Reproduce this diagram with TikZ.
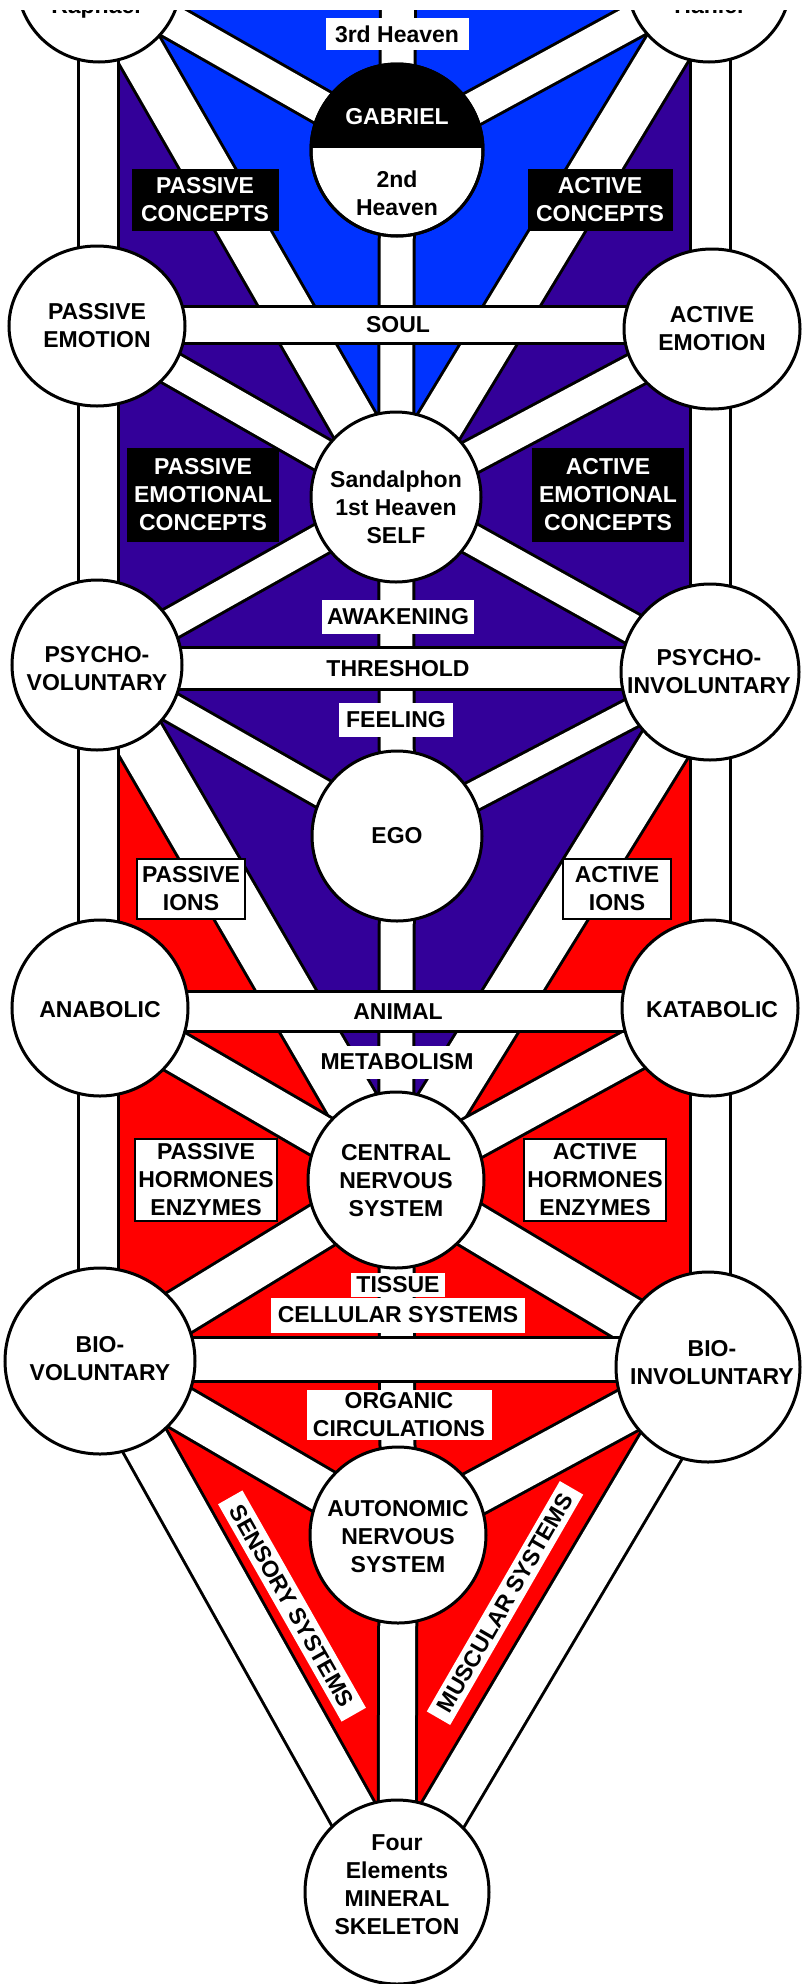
\documentclass[tikz,border=0pt]{standalone}
\usepackage{fontspec}
\setmainfont{Liberation Sans}
\usetikzlibrary{shapes.geometric}
\definecolor{hblue}{RGB}{0,51,255}
\definecolor{hpurple}{RGB}{51,0,153}
\definecolor{hred}{RGB}{255,0,0}
\pgfdeclarelayer{bg}
\pgfdeclarelayer{mid}
\pgfdeclarelayer{barl}
\pgfsetlayers{bg,mid,barl,main}
\begin{document}
\begin{tikzpicture}[x=1pt,y=-1pt,
  circ/.style={ellipse, draw=black, line width=3pt, fill=white, inner sep=0pt},
  txt/.style={font=\fontsize{23}{28}\selectfont\bfseries, align=center, inner sep=0pt},
  band/.style={draw=black, line width=3pt, double=white, double distance=#1},
  hbar/.style={rectangle, draw=black, line width=3pt, fill=white, minimum width=606, txt},
  bbox/.style={rectangle, fill=black, text=white, txt},
  wbox/.style={rectangle, fill=white, text=black, txt},
  wboxb/.style={rectangle, fill=white, text=black, draw=black, line width=2pt, txt}]
\useasboundingbox (0,0) rectangle (803,1984);

% ---------- circles (nodes) ----------
\node[circ, minimum width=164, minimum height=164] (rap) at (99,-20) {};
\node[circ, minimum width=164, minimum height=164] (han) at (709,-20) {};
\node[circ, minimum size=172] (gab) at (397,150) {};
\node[circ, minimum width=176, minimum height=160] (pe) at (97,326) {};
\node[circ, minimum width=176, minimum height=160] (ae) at (712,329) {};
\node[circ, minimum size=170] (sand) at (396,497) {};
\node[circ, minimum size=170] (pv) at (97,665) {};
\node[circ, minimum width=178, minimum height=176] (pi) at (710,672) {};
\node[circ, minimum size=170] (ego) at (397,836) {};
\node[circ, minimum size=176] (ana) at (100,1008) {};
\node[circ, minimum size=176] (kat) at (710,1008) {};
\node[circ, minimum size=176] (cns) at (396,1180) {};
\node[circ, minimum width=190, minimum height=186] (bv) at (100,1361) {};
\node[circ, minimum width=184, minimum height=190] (biv) at (708,1367) {};
\node[circ, minimum size=176] (ans) at (398,1535) {};
\node[circ, minimum size=184] (fe) at (397,1892) {};

\coordinate (lpt) at (98.5,-20);
\coordinate (lpb) at (98.5,1361);
\coordinate (rpt) at (710.5,-20);
\coordinate (rpb) at (710.5,1367);
\coordinate (mtop) at (398,-20);

% ---------- background colours ----------
\begin{pgfonlayer}{bg}
\fill[white] (-5,-40) rectangle (808,1990);
\fill[hred] (90,668) -- (720,668) -- (720,1367) -- (biv.center) -- (fe.center) -- (bv.center) -- (90,1361) -- cycle;
\fill[hpurple] (90,-20) -- (720,-20) -- (720,668) -- (pi.center) -- (cns.center) -- (pv.center) -- (90,665) -- cycle;
\fill[hblue] (rap.center) -- (sand.center) -- (han.center) -- cycle;
\end{pgfonlayer}

% ---------- paths ----------
\begin{pgfonlayer}{mid}
\draw[band=32] (rap.center) -- (gab.center);
\draw[band=32] (han.center) -- (gab.center);
\draw[band=46] (rap.center) -- (sand.center);
\draw[band=46] (han.center) -- (sand.center);
\draw[band=31] (pe.center) -- (sand.center);
\draw[band=31] (ae.center) -- (sand.center);
\draw[band=29] (sand.center) -- (pv.center);
\draw[band=29] (sand.center) -- (pi.center);
\draw[band=27] (pv.center) -- (ego.center);
\draw[band=27] (pi.center) -- (ego.center);
\draw[band=50] (pv.center) -- (cns.center);
\draw[band=50] (pi.center) -- (cns.center);
\draw[band=40] (ana.center) -- (cns.center);
\draw[band=40] (kat.center) -- (cns.center);
\draw[band=44] (cns.center) -- (bv.center);
\draw[band=44] (cns.center) -- (biv.center);
\draw[band=42] (bv.center) -- (ans.center);
\draw[band=42] (biv.center) -- (ans.center);
\draw[band=46] (bv.center) -- (fe.center);
\draw[band=46] (biv.center) -- (fe.center);
\draw[band=37] (lpt) -- (lpb);
\draw[band=37] (rpt) -- (rpb);
\draw[band=32] (mtop) -- (gab.center) -- (sand.center) -- (ego.center) -- (cns.center) -- (ans.center);
\draw[band=35] (ans.center) -- (fe.center);
\end{pgfonlayer}

% ---------- bars ----------
\begin{pgfonlayer}{barl}
\node[hbar, minimum height=37] (soul) at (398,325) {SOUL};
\node[hbar, minimum height=42] (thr) at (398,668.5) {THRESHOLD};
\node[hbar, minimum height=40] (animal) at (398,1011.5) {ANIMAL};
\node[hbar, minimum height=44] (bbar) at (402,1359.5) {};
\end{pgfonlayer}

% ---------- Gabriel cap ----------
\begin{scope}
\clip (gab.center) circle [radius=86];
\fill[black] (300,50) rectangle (500,148);
\end{scope}
\draw[line width=3pt] (gab.center) circle [radius=86];

% ---------- texts in circles ----------
\node[txt, anchor=base] (rap-t) at (96,13) {Raphael};
\node[txt, anchor=base] (han-t) at (709,13) {Haniel};
\node[txt, text=white] (gab-t) at (397,117) {GABRIEL};
\node[txt] (gab-t2) at (397,193) {2nd\\Heaven};
\node[txt] (pe-t) at (pe) {PASSIVE\\EMOTION};
\node[txt] (ae-t) at (ae) {ACTIVE\\EMOTION};
\node[txt] (sand-t) at (396,507) {Sandalphon\\1st Heaven\\SELF};
\node[txt] (pv-t) at (97,669) {PSYCHO-\\VOLUNTARY};
\node[txt] (pi-t) at (709,672) {PSYCHO-\\INVOLUNTARY};
\node[txt] (ego-t) at (397,836) {EGO};
\node[txt] (ana-t) at (100,1010) {ANABOLIC};
\node[txt] (kat-t) at (712,1010) {KATABOLIC};
\node[txt] (cns-t) at (396,1181) {CENTRAL\\NERVOUS\\SYSTEM};
\node[txt] (bv-t) at (100,1359) {BIO-\\VOLUNTARY};
\node[txt] (biv-t) at (712,1363) {BIO-\\INVOLUNTARY};
\node[txt] (ans-t) at (398,1537) {AUTONOMIC\\NERVOUS\\SYSTEM};
\node[txt] (fe-t) at (397,1885) {Four\\Elements\\MINERAL\\SKELETON};

% ---------- label boxes ----------
\node[wbox, minimum width=143, minimum height=32] (h3) at (397,34) {3rd Heaven};
\node[bbox, minimum width=147, minimum height=62] (pc) at (205,200) {PASSIVE\\CONCEPTS};
\node[bbox, minimum width=145, minimum height=62] (ac) at (600,200) {ACTIVE\\CONCEPTS};
\node[bbox, minimum width=152, minimum height=94] (pec) at (203,495) {PASSIVE\\EMOTIONAL\\CONCEPTS};
\node[bbox, minimum width=152, minimum height=94] (aec) at (608,495) {ACTIVE\\EMOTIONAL\\CONCEPTS};
\node[wbox, minimum width=152, minimum height=34] (awak) at (398,617) {AWAKENING};
\node[wbox, minimum width=114, minimum height=34] (feel) at (396,720) {FEELING};
\node[wboxb, minimum width=108, minimum height=60] (pions) at (191,889) {PASSIVE\\IONS};
\node[wboxb, minimum width=108, minimum height=60] (aions) at (617,889) {ACTIVE\\IONS};
\node[wbox, minimum width=159, minimum height=33] (metab) at (397,1062) {METABOLISM};
\node[wboxb, minimum width=142, minimum height=82] (phe) at (206,1180) {PASSIVE\\HORMONES\\ENZYMES};
\node[wboxb, minimum width=142, minimum height=82] (ahe) at (595,1180) {ACTIVE\\HORMONES\\ENZYMES};
\node[wbox, minimum width=254, minimum height=35] (cell) at (398,1315) {CELLULAR SYSTEMS};
\node[wbox, minimum width=94, minimum height=24] (tissue) at (398,1285) {TISSUE};
\node[wbox, minimum width=185, minimum height=50] (organic) at (399,1415) {ORGANIC\\CIRCULATIONS};
\node[wbox, rotate=-60.4, minimum width=250, minimum height=28] (sens) at (292,1606) {SENSORY SYSTEMS};
\node[wbox, rotate=60, minimum width=266, minimum height=27] (musc) at (505,1603) {MUSCULAR SYSTEMS};

% ---------- top white strip ----------
\fill[white] (-10,-40) rectangle (813,10);
\end{tikzpicture}
\end{document}
